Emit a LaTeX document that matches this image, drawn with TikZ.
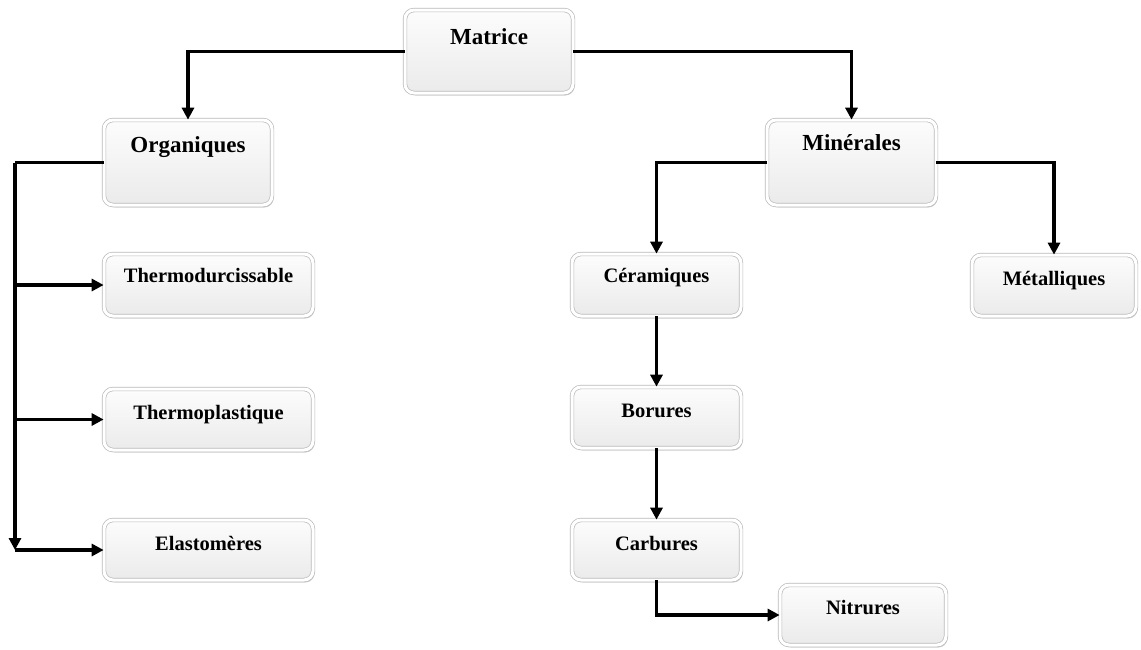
\documentclass[tikz,border=0pt]{standalone}
\usepackage{fontspec}
\setmainfont{Liberation Serif}
\usetikzlibrary{arrows.meta,shadows}
\begin{document}
\begin{tikzpicture}[x=1pt,y=-1pt,
  box/.style={rounded corners=9pt, draw=gray!55, line width=0.7pt, double=white, double distance=3pt,
    top color=gray!2, bottom color=gray!16,
    drop shadow={shadow xshift=1.5pt, shadow yshift=-2.5pt, opacity=0.35, fill=gray},
    inner xsep=0pt, inner ysep=0pt, align=center},
  big/.style={box, font=\fontsize{23}{23}\selectfont\bfseries},
  small/.style={box, font=\fontsize{20.5}{20.5}\selectfont\bfseries},
  hd/.style 2 args={text height=#1pt, text depth=#2pt},
  conn/.style={line width=3.5pt, -{Triangle[length=12pt,width=12pt]}},
  plain/.style={line width=3.5pt}]
\useasboundingbox (0,0) rectangle (1141,649);
% nodes
\node[big, minimum width=168pt, hd={34.5}{48.5}] (m) at (489,51.5) {Matrice};
\node[big, minimum width=168pt, hd={32.5}{52.5}] (o) at (188,162.5) {Organiques};
\node[big, minimum width=169pt, hd={30.5}{54.5}] (mi) at (851.5,162.5) {Minérales};
\node[small, minimum width=209pt, hd={28}{34}] (td) at (208.5,285) {Thermodurcissable};
\node[small, minimum width=209pt, hd={30}{31}] (tp) at (208.5,419.5) {Thermoplastique};
\node[small, minimum width=209pt, hd={30}{30}] (el) at (208.5,550) {Elastomères};
\node[small, minimum width=169pt, hd={28}{34}] (ce) at (656.5,285) {Céramiques};
\node[small, minimum width=164pt, hd={30}{31}] (me) at (1054,285.5) {Métalliques};
\node[small, minimum width=169pt, hd={30}{31}] (bo) at (656.5,417.5) {Borures};
\node[small, minimum width=169pt, hd={30}{30}] (ca) at (656.5,550) {Carbures};
\node[small, minimum width=166pt, hd={29}{31}] (ni) at (863,615) {Nitrures};
% connectors
\draw[conn] (m.west) -| (o.north);
\draw[conn] (m.east) -| (mi.north);
\coordinate (lx) at (15,162.5);
\draw[plain] (o.west) -- (lx);
\draw[conn] (lx) -- (lx |- el.west);
\draw[conn] (lx |- td.west) -- (td.west);
\draw[conn] (lx |- tp.west) -- (tp.west);
\draw[conn] (lx |- el.west) -- (el.west);
\draw[conn] (mi.west) -| (ce.north);
\draw[conn] (mi.east) -| (me.north);
\draw[conn] (ce.south) -- (bo.north);
\draw[conn] (bo.south) -- (ca.north);
\draw[conn] (ca.south) |- (ni.west);
\end{tikzpicture}
\end{document}
